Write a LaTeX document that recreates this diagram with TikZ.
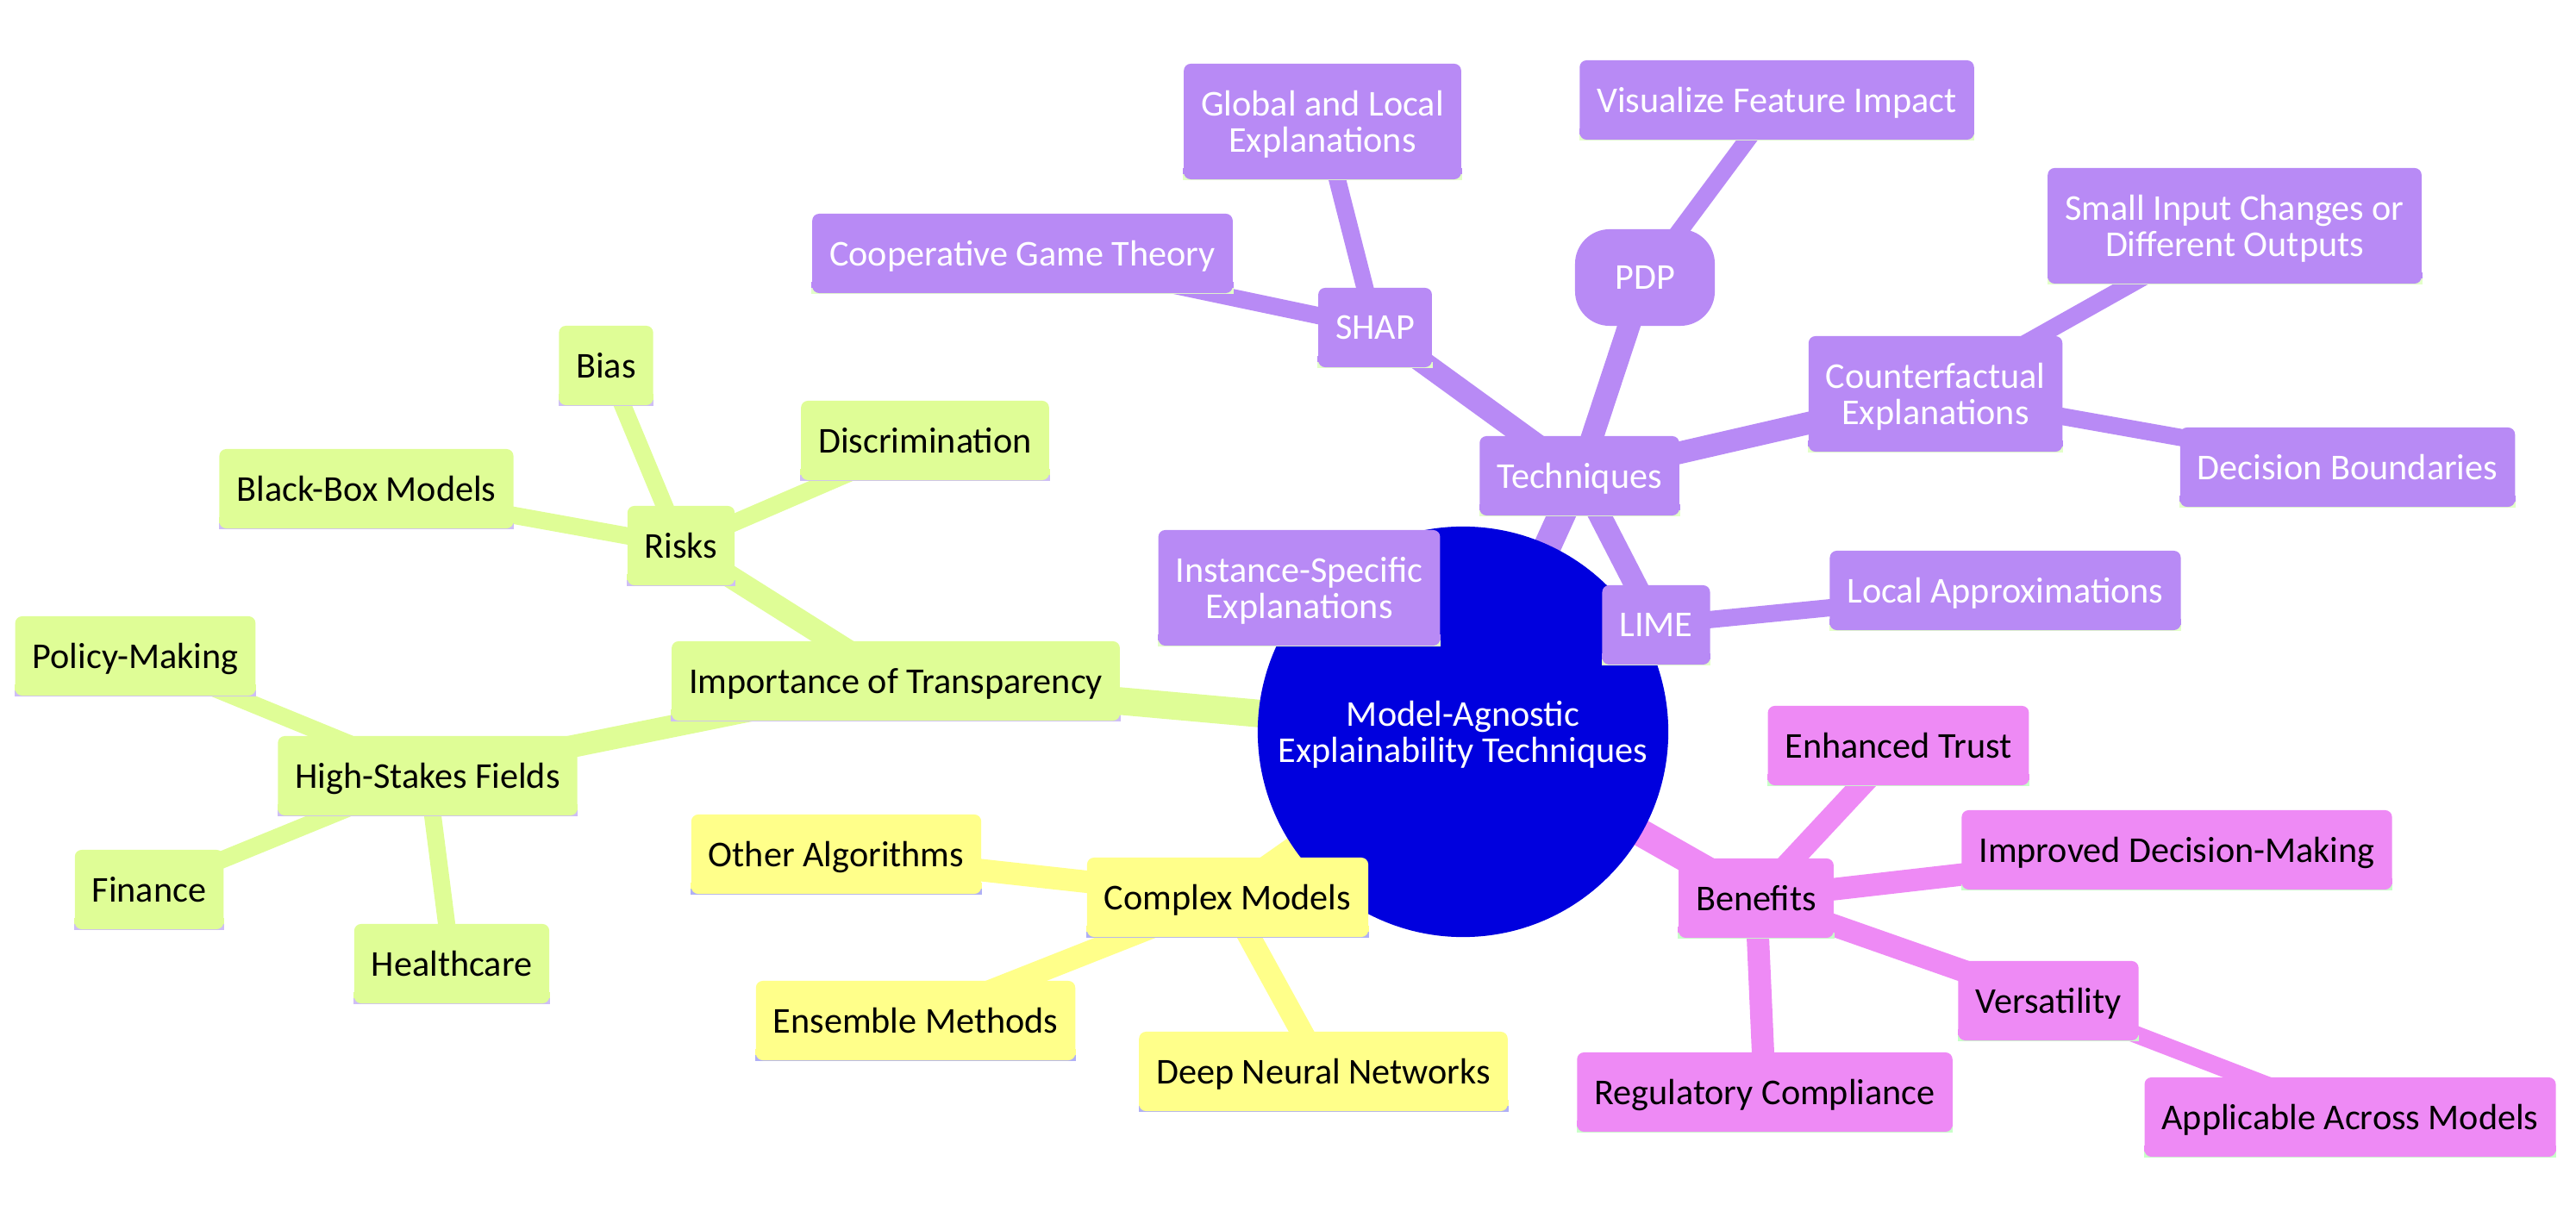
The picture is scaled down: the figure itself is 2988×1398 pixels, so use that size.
\documentclass[tikz,border=0pt]{standalone}
\usepackage{fontspec}
\setmainfont{Carlito}
\usetikzlibrary{backgrounds}
\definecolor{rootblue}{RGB}{0,0,222}
\definecolor{grfill}{RGB}{223,253,150}
\definecolor{grline}{RGB}{206,190,245}
\definecolor{yefill}{RGB}{255,255,138}
\definecolor{yeline}{RGB}{176,176,245}
\definecolor{pufill}{RGB}{184,138,245}
\definecolor{puline}{RGB}{227,255,200}
\definecolor{pifill}{RGB}{238,138,245}
\definecolor{piline}{RGB}{200,255,200}
\tikzset{
  txt/.style={font=\fontsize{12}{12}\selectfont, align=center, text depth=0pt},
  box/.style={txt, rounded corners=0.08cm, minimum height=0.92cm, inner xsep=0.2cm, inner ysep=0pt},
  tall/.style={minimum height=1.34cm},
  pdpbox/.style={txt, fill=pufill, text=white, rounded corners=0.4cm, minimum width=1.62cm, minimum height=1.12cm},
  trunk/.style={line width=0.32cm},
  branch/.style={line width=0.26cm},
  twig/.style={line width=0.2cm}
}
% one box style per branch: fill colour and bottom stripe colour
\newcommand\branchstyle[3]{\tikzset{#1/.style={box, fill=#2,
  append after command={\pgfextra{
    \fill[#2, sharp corners] (\tikzlastnode.south west) rectangle ([yshift=0.14cm]\tikzlastnode.south east);
    \fill[#3, sharp corners] (\tikzlastnode.south west) rectangle ([yshift=0.07cm]\tikzlastnode.south east);}}}}}
\branchstyle{gr}{grfill}{grline}
\branchstyle{ye}{yefill}{yeline}
\branchstyle{pu}{pufill}{puline}
\branchstyle{pi}{pifill}{piline}
\begin{document}
\begin{tikzpicture}[x=0.01cm, y=-0.01cm]
    \useasboundingbox (0,0) rectangle (2988,1398);
    \node[txt, circle, fill=rootblue, text=white, minimum size=4.76cm] (root) at (1697,849) {Model-Agnostic\\Explainability Techniques};

    \node[gr] (imp) at (1039,790) {Importance of Transparency};
    \node[gr] (risks) at (790,633) {Risks};
    \node[gr] (bias) at (703,424) {Bias};
    \node[gr] (blackbox) at (425,567) {Black-Box Models};
    \node[gr] (discrim) at (1073,511) {Discrimination};
    \node[gr] (stakes) at (496,900) {High-Stakes Fields};
    \node[gr] (policy) at (157,761) {Policy-Making};
    \node[gr] (finance) at (173,1032) {Finance};
    \node[gr] (health) at (524,1118) {Healthcare};

    \node[ye] (complex) at (1424,1041) {Complex Models};
    \node[ye] (otheralg) at (970,991) {Other Algorithms};
    \node[ye] (ensemble) at (1062,1184) {Ensemble Methods};
    \node[ye] (deepnn) at (1535,1243) {Deep Neural Networks};

    \node[pu, text=white] (tech) at (1832,552) {Techniques};
    \node[pu, text=white] (shap) at (1595,380) {SHAP};
    \node[pu, text=white, tall] (global) at (1534,141) {Global and Local\\Explanations};
    \node[pu, text=white] (coop) at (1186,294) {Cooperative Game Theory};
    \node[pdpbox] (pdp) at (1908,322) {PDP};
    \node[pu, text=white] (visual) at (2061,116) {Visualize Feature Impact};
    \node[pu, text=white, tall] (counter) at (2245,457) {Counterfactual\\Explanations};
    \node[pu, text=white, tall] (small) at (2592,262) {Small Input Changes or\\Different Outputs};
    \node[pu, text=white] (decision) at (2723,542) {Decision Boundaries};
    \node[pu, text=white] (lime) at (1921,725) {LIME};
    \node[pu, text=white] (localapx) at (2326,685) {Local Approximations};
    \node[pu, text=white, tall] (instance) at (1507,682) {Instance-Specific\\Explanations};

    \node[pi] (benefits) at (2037,1042) {Benefits};
    \node[pi] (trust) at (2202,865) {Enhanced Trust};
    \node[pi] (improved) at (2525,986) {Improved Decision-Making};
    \node[pi] (versat) at (2376,1161) {Versatility};
    \node[pi] (regul) at (2047,1267) {Regulatory Compliance};
    \node[pi] (applic) at (2726,1296) {Applicable Across Models};

    \begin{scope}[on background layer]
    \draw[trunk, grfill] (root.center) -- (imp.center);
    \draw[trunk, yefill] (root.center) -- (complex.center);
    \draw[trunk, pufill] (root.center) -- (tech.center);
    \draw[trunk, pifill] (root.center) -- (benefits.center);
    \draw[branch, grfill] (imp.center) -- (risks.center);
    \draw[branch, grfill] (imp.center) -- (stakes.center);
    \draw[twig, grfill] (risks.center) -- (bias.center);
    \draw[twig, grfill] (risks.center) -- (blackbox.center);
    \draw[twig, grfill] (risks.center) -- (discrim.center);
    \draw[twig, grfill] (stakes.center) -- (policy.center);
    \draw[twig, grfill] (stakes.center) -- (finance.center);
    \draw[twig, grfill] (stakes.center) -- (health.center);
    \draw[branch, yefill] (complex.center) -- (otheralg.center);
    \draw[branch, yefill] (complex.center) -- (ensemble.center);
    \draw[branch, yefill] (complex.center) -- (deepnn.center);
    \draw[branch, pufill] (tech.center) -- (shap.center);
    \draw[branch, pufill] (tech.center) -- (pdp.center);
    \draw[branch, pufill] (tech.center) -- (counter.center);
    \draw[branch, pufill] (tech.center) -- (lime.center);
    \draw[twig, pufill] (shap.center) -- (global.center);
    \draw[twig, pufill] (shap.center) -- (coop.center);
    \draw[twig, pufill] (pdp.center) -- (visual.center);
    \draw[twig, pufill] (counter.center) -- (small.center);
    \draw[twig, pufill] (counter.center) -- (decision.center);
    \draw[twig, pufill] (lime.center) -- (localapx.center);
    \draw[twig, pufill] (lime.center) -- (instance.center);
    \draw[branch, pifill] (benefits.center) -- (trust.center);
    \draw[branch, pifill] (benefits.center) -- (improved.center);
    \draw[branch, pifill] (benefits.center) -- (versat.center);
    \draw[branch, pifill] (benefits.center) -- (regul.center);
    \draw[twig, pifill] (versat.center) -- (applic.center);
    \end{scope}
\end{tikzpicture}
\end{document}
